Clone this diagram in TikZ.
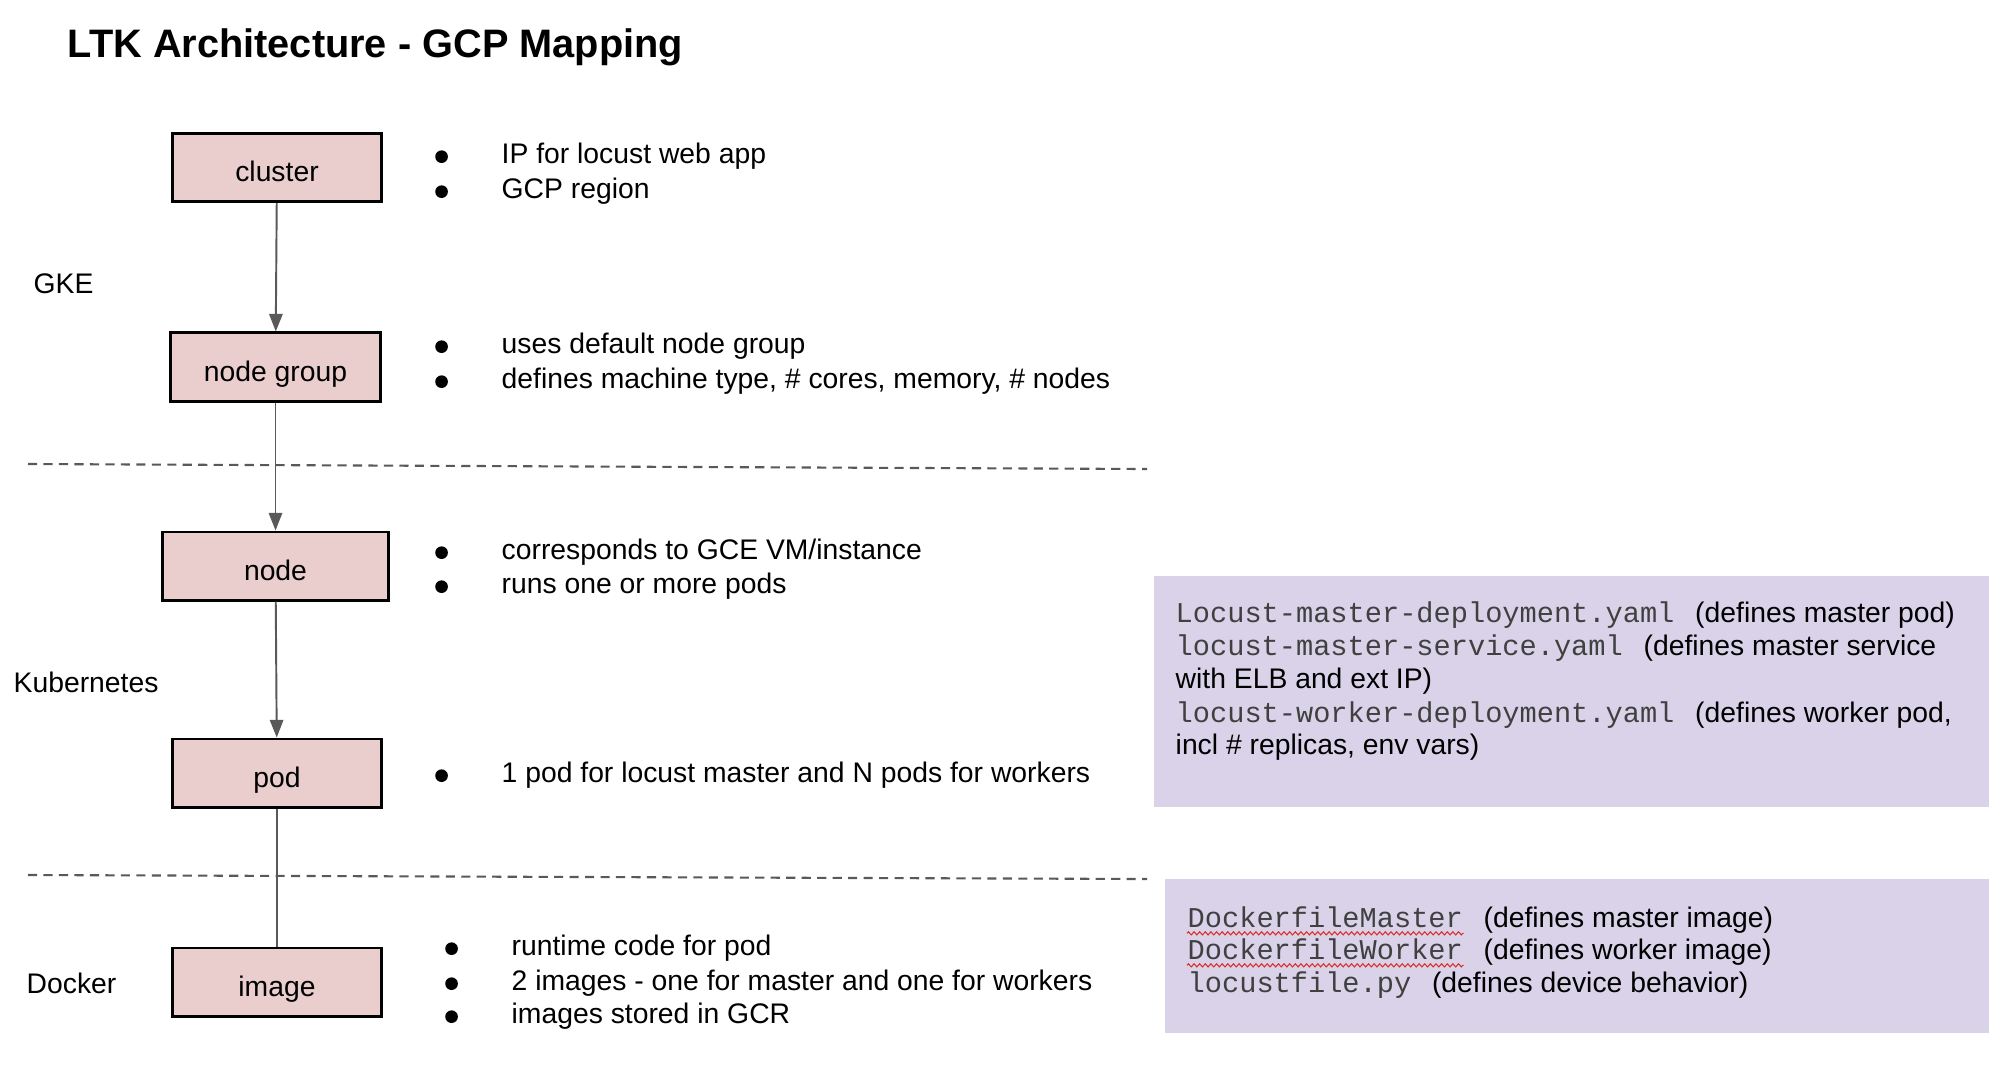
\documentclass[tikz,border=0pt]{standalone}
\usepackage{fontspec}
\setmainfont{Liberation Sans}
\setmonofont{Liberation Mono}
\usetikzlibrary{arrows.meta,positioning,decorations.pathmorphing}

\definecolor{boxpink}{RGB}{234,206,206}
\definecolor{notepurple}{RGB}{217,210,233}
\definecolor{linegray}{RGB}{89,89,89}
\definecolor{codegray}{RGB}{64,64,64}
\definecolor{spellred}{RGB}{217,48,37}

\tikzset{
  box/.style={draw=black, line width=0.85pt, fill=boxpink, minimum width=2.08cm, minimum height=0.68cm,
    text height=8.2pt, text depth=0pt, font=\fontsize{8.05}{9.6}\selectfont},
  link/.style={draw=linegray, line width=0.55pt},
  arr/.style={link, -{Triangle[length=5pt,width=3.8pt]}},
  sep/.style={draw=linegray, line width=0.6pt, dash pattern=on 2.6pt off 1.8pt},
  txt/.style={anchor=base west, inner sep=0pt, font=\fontsize{8.05}{9.6}\selectfont},
  code/.style={txt, font=\fontsize{8.15}{9.6}\selectfont\ttfamily, text=codegray},
  squiggle/.style={draw=spellred, line width=0.3pt, decorate, decoration={zigzag, amplitude=0.45pt, segment length=1.6pt}}
}
\newcommand{\bul}{\llap{\tikz\fill (1.8pt,1.7pt) circle (1.8pt);\hspace{15.3pt}}}

\begin{document}
\begin{tikzpicture}[x=0.01cm, y=-0.01cm]
    \useasboundingbox (0,0) rectangle (2000,1066);
    \node[txt, font=\fontsize{11.3}{13}\selectfont\bfseries] (title) at (67,57) {LTK Architecture - GCP Mapping};

    % layer labels
    \node[txt] (gke) at (33,293) {GKE};
    \node[txt] (kube) at (13,692) {Kubernetes};
    \node[txt] (docker) at (26,993) {Docker};

    % separators
    \draw[sep] (28,464) -- (1147,469);
    \draw[sep] (28,875) -- (1147,879);

    % stack
    \node[box] (cluster) at (277,167.5) {cluster};
    \node[box, minimum width=2.09cm] (ngroup) at (275.5,367) {node group};
    \node[box, minimum width=2.25cm] (knode) at (275.5,566) {node};
    \node[box] (pod) at (277,773) {pod};
    \node[box] (image) at (277,982) {image};

    \draw[arr] (cluster) -- (ngroup);
    \draw[arr] (ngroup) -- (knode);
    \draw[arr] (knode) -- (pod);
    \draw[link] (pod) -- (image);

    % bullet notes
    \foreach \nm/\xx/\yy/\txt in {ip/501/163/{IP for locust web app}, region/501/198/{GCP region},
        usesgrp/501/353/{uses default node group}, machine/501/388/{defines machine type, \# cores, memory, \# nodes},
        gce/501/559/{corresponds to GCE VM/instance}, runs/501/593/{runs one or more pods},
        pods/501/782/{1 pod for locust master and N pods for workers},
        runtime/511/955/{runtime code for pod}, twoimg/511/990/{2 images - one for master and one for workers},
        gcr/511/1023/{images stored in GCR}}
        \node[txt] (\nm) at (\xx,\yy) {\bul\txt};

    % k8s files
    \fill[notepurple] (1154,576) rectangle (1989,807);
    \node[code] (mdep) at (1175,622) {Locust-master-deployment.yaml};
    \node[txt] (mdepx) at ([xshift=5.5pt]mdep.base east) {(defines master pod)};
    \node[code] (msvc) at (1175,655) {locust-master-service.yaml};
    \node[txt] (msvcx) at ([xshift=5.5pt]msvc.base east) {(defines master service};
    \node[txt] (msvcy) at (1175,688) {with ELB and ext IP)};
    \node[code] (wdep) at (1175,722) {locust-worker-deployment.yaml};
    \node[txt] (wdepx) at ([xshift=5.5pt]wdep.base east) {(defines worker pod,};
    \node[txt] (wdepy) at (1175,754) {incl \# replicas, env vars)};

    % docker files
    \fill[notepurple] (1165,879) rectangle (1989,1033);
    \node[code] (dmaster) at (1187,927) {DockerfileMaster};
    \node[txt] (dmasterx) at ([xshift=5.5pt]dmaster.base east) {(defines master image)};
    \node[code] (dworker) at (1187,959) {DockerfileWorker};
    \node[txt] (dworkerx) at ([xshift=5.5pt]dworker.base east) {(defines worker image)};
    \node[code] (lfile) at (1187,992) {locustfile.py};
    \node[txt] (lfilex) at ([xshift=5.5pt]lfile.base east) {(defines device behavior)};
    \draw[squiggle] ([yshift=-1.8pt]dmaster.base west) -- ([yshift=-1.8pt]dmaster.base east);
    \draw[squiggle] ([yshift=-1.8pt]dworker.base west) -- ([yshift=-1.8pt]dworker.base east);
\end{tikzpicture}
\end{document}
